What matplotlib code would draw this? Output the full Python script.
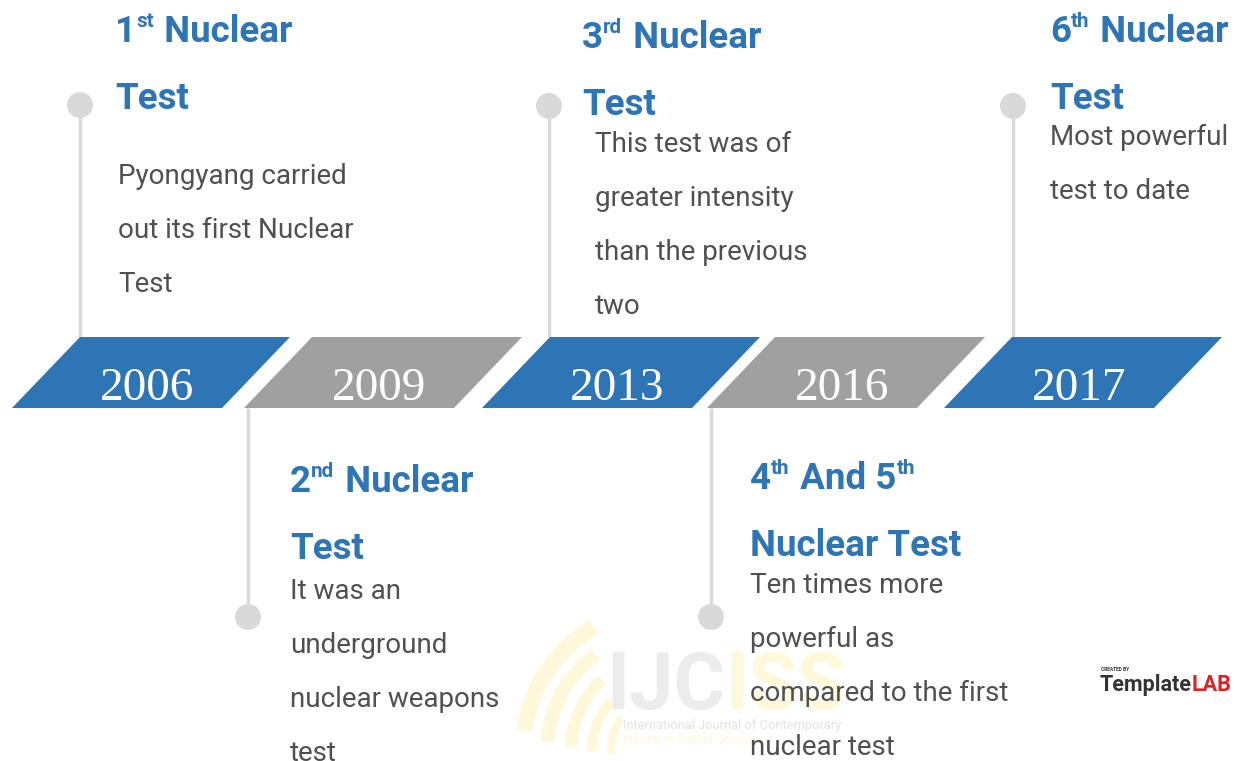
import matplotlib
matplotlib.use("Agg")
import re
import matplotlib.pyplot as plt
from matplotlib.patches import Polygon, Circle, Rectangle, Wedge

# ---------------- data ----------------
years = ["2006", "2009", "2013", "2016", "2017"]
# text inside {} is a superscript
titles = [
    ["1{st} Nuclear", "Test"],
    ["2{nd} Nuclear", "Test"],
    ["3{rd} Nuclear", "Test"],
    ["4{th} And 5{th}", "Nuclear Test"],
    ["6{th} Nuclear", "Test"],
]
descriptions = [
    ["Pyongyang carried", "out its first Nuclear", "Test"],
    ["It was an", "underground", "nuclear weapons", "test"],
    ["This test was of", "greater intensity", "than the previous", "two"],
    ["Ten times more", "powerful as", "compared to the first", "nuclear test"],
    ["Most powerful", "test to date"],
]
sides = ["top", "bottom", "top", "bottom", "top"]

# ---------------- style / layout ----------------
BLUE = "#2E75B6"
GREY_BLOCK = "#A0A0A0"
LINE_GREY = "#D9D9D9"
BODY = "#505050"
FONT = "Roboto"

block_tl = [80, 312, 550, 775, 1012]      # top-left x of each parallelogram
block_w = 210
skew = 68
block_top, block_bot = 337, 408

conn_x = [80, 248, 549, 711, 1013]
circle_y = [105, 617, 106, 617, 106]
head_x = [115, 290, 582, 750, 1050]
head_base = [42, 492, 48, 489, 42]
body_x = [118, 290, 595, 750, 1050]
body_base = [184, 599, 152, 593, 145]
HEAD_STEP = 67
BODY_STEP = 54
HEAD_FS = 26.5

fig = plt.figure(figsize=(12.35, 7.61), dpi=100)
ax = fig.add_axes([0, 0, 1, 1])
ax.set_xlim(0, 1235)
ax.set_ylim(761, 0)
ax.axis("off")
renderer = fig.canvas.get_renderer()
inv = ax.transData.inverted()


def draw_rich(x, y, s, fs, color, weight):
    parts = re.split(r"(\{[^}]*\})", s)
    cur = x
    for p in parts:
        if not p:
            continue
        sup = p.startswith("{")
        txt = p[1:-1] if sup else p
        size = fs * 0.56 if sup else fs
        dy = -fs * 0.42 * 100 / 72 if sup else 0
        t = ax.text(cur, y + dy, txt, fontsize=size, color=color,
                    family=FONT, fontweight=weight, ha="left",
                    va="baseline", zorder=5)
        bb = t.get_window_extent(renderer)
        cur = inv.transform((bb.x1, bb.y0))[0] + (1.5 if sup else 0)


# ---------------- watermark ----------------
wm_yellow = "#FFF8DA"
for r, w, t1, t2 in [(150, 16, 120, 172), (125, 14, 126, 176), (100, 12, 132, 178),
                     (78, 10, 138, 181), (58, 8, 144, 184)]:
    ax.add_patch(Wedge((665, 750), r, 360 - t2, 360 - t1, width=w,
                       facecolor=wm_yellow, edgecolor="none", zorder=0))
ax.text(606, 709, "IJC", fontsize=57, fontweight="bold", color="#ECECEC",
        family=FONT, va="baseline", ha="left", zorder=0)
ax.text(725, 709, "ISS", fontsize=57, fontweight="bold", color=wm_yellow,
        family=FONT, va="baseline", ha="left", zorder=0)
ax.text(623, 729, "International Journal of Contemporary", fontsize=9.3,
        color="#E3E3E3", family=FONT, va="baseline", zorder=0)
ax.text(623, 743, "Issues in Social Science", fontsize=9.3,
        color=wm_yellow, family=FONT, va="baseline", zorder=0)

# ---------------- timeline ----------------
for i, yr in enumerate(years):
    tl = block_tl[i]
    color = BLUE if i % 2 == 0 else GREY_BLOCK
    pts = [(tl, block_top), (tl + block_w, block_top),
           (tl + block_w - skew, block_bot), (tl - skew, block_bot)]
    ax.add_patch(Polygon(pts, closed=True, facecolor=color,
                         edgecolor="none", zorder=3))
    ax.text(tl + 67, 400, yr, color="white", fontsize=34,
            family="Liberation Serif", ha="center", va="baseline", zorder=4)

    # connector + dot
    if sides[i] == "top":
        ax.plot([conn_x[i], conn_x[i]], [circle_y[i], block_top],
                color=LINE_GREY, lw=2.5, zorder=1, solid_capstyle="butt")
    else:
        ax.plot([conn_x[i], conn_x[i]], [block_bot, circle_y[i]],
                color=LINE_GREY, lw=2.5, zorder=1, solid_capstyle="butt")
    ax.add_patch(Circle((conn_x[i], circle_y[i]), 13, facecolor=LINE_GREY,
                        edgecolor="none", zorder=2))

    # title
    for k, line in enumerate(titles[i]):
        draw_rich(head_x[i], head_base[i] + k * HEAD_STEP, line, HEAD_FS,
                  BLUE, "bold")
    # description
    for k, line in enumerate(descriptions[i]):
        t = ax.text(body_x[i], body_base[i] + k * BODY_STEP, line, color=BODY,
                    fontsize=20, family=FONT, ha="left",
                    va="baseline", zorder=5)
        if i == 0 and k == len(descriptions[i]) - 1:
            clip = Rectangle((0, 0), 1235, 289, transform=ax.transData)
            t.set_clip_path(clip)

# ---------------- logo ----------------
ax.text(1101, 671, "CREATED BY", fontsize=3.5, fontweight="bold",
        color="#333333", family=FONT, va="baseline")
t_tpl = ax.text(1100, 691, "Template", fontsize=15.5, fontweight="bold",
                color="#333333", family=FONT, va="baseline")
bb = t_tpl.get_window_extent(renderer)
x_end = inv.transform((bb.x1, bb.y0))[0]
ax.text(x_end, 691, "LAB", fontsize=15.5, fontweight="bold",
        color="#E31E24", family=FONT, va="baseline")

fig.savefig("out.png", dpi=100)
